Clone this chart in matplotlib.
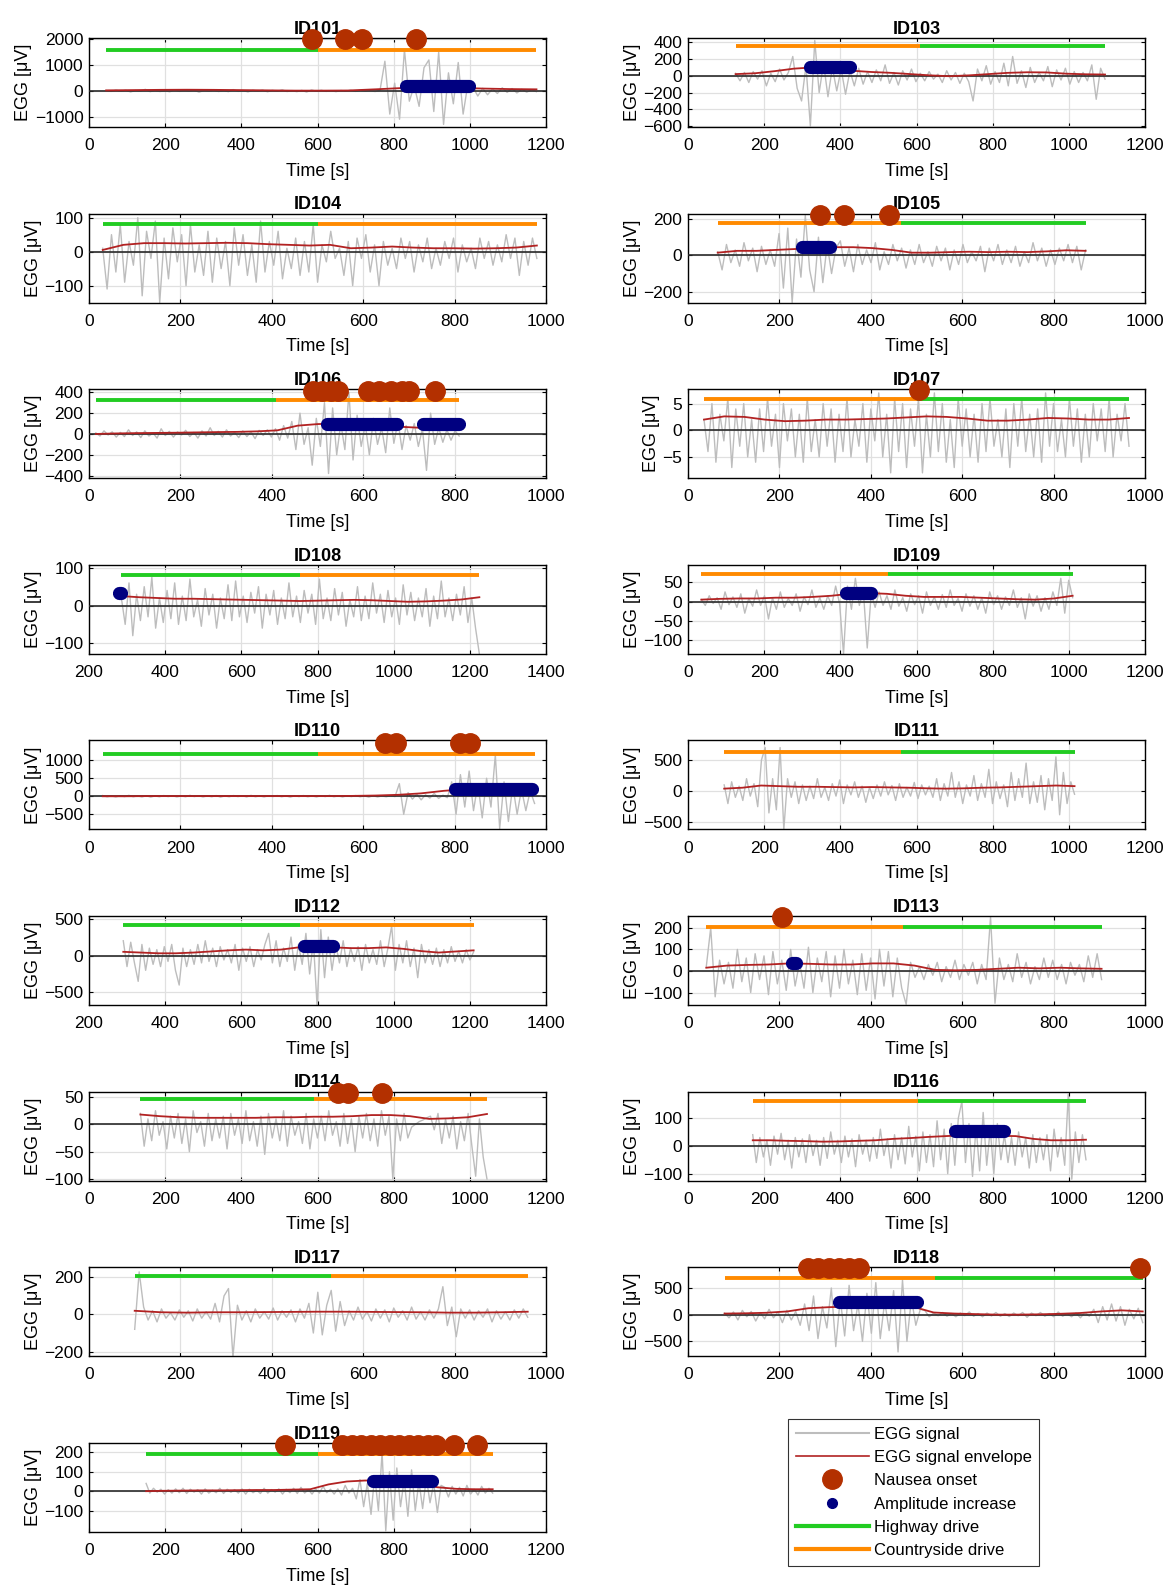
import matplotlib
matplotlib.use("Agg")
import matplotlib.pyplot as plt
from matplotlib.lines import Line2D
import numpy as np

plt.rcParams["font.family"] = ["Liberation Sans", "DejaVu Sans"]

# ---- data (time in s, amplitude in uV) ----
# drive = [start, switch, end]; first segment colour given per panel below

ID101_SIGNAL = [10, -20, 30, -15, 25, -40, 15, -10, 60, -30, 20, -25, 10, -35, 45, -20, 15, -10, 30, -50,
                20, -15, 35, -25, 10, -30, 50, -20, 15, -40, 25, -10, 30, -35, 20, -15, 40, -25, 10, -30,
                20, -45, 35, -15, 25, -20, 10, -30, 15, -10, 25, -20, 30, -15, 10, -25, 20,
                1150, -900, 300, -1100, 1600, -400, 200, -600, 900, 1200, -800, 1500, -1300, 700, -500,
                1100, -900, 300, 150, -200, 100, -150, 80, -100, 120, -60, 90, -80, 60, -50, 40, -30]
ID101_ENVELOPE = [20, 30, 40, 45, 40, 30, 20, 10, 10, 15, 60, 110, 130, 120, 90, 70, 60]
ID101_DRIVE = [45, 600, 1175]
ID101_NAUSEA = [585, 672, 718, 858]
ID101_AMPLITUDE = [(833, 997)]

ID103_SIGNAL = [30, -60, 40, -80, 50, -40, 60, -120, 30, -70, 80, -50, 40,
                230, -150, -300, 120, -600, 420, -200, 150, -250, 100, -180, 80, -220, 60, -120,
                90, -100, 50, -80, 70, -60, 130, -90, 40, -110, 60, -50, 80, -70, 30, -60, 50, -40, 20, -80,
                60, -50, 40, -90, 30, -70, -300, 80, -60, 120, -100, 50, -80, 150, -120, 230, -90, 60, -140,
                100, -80, 40, -60, 110, -130, 70, -50, 90, -100, 50, -80, 40, -60, 130, -280, 90, -40]
ID103_ENVELOPE = [20, 30, 55, 85, 100, 95, 60, 45, 35, 20, 5, -5, 5, 20, 35, 42, 40, 25, 18, 15]
ID103_DRIVE = [125, 610, 1095]
ID103_NAUSEA = []
ID103_AMPLITUDE = [(320, 425)]

ID104_SIGNAL = [10, -110, 50, -60, 80, -90, 30, -40, 100, -130, 60, -20, 90, -150, 40, -80, 70, -30, 50, -100,
                80, -60, 20, -70, 60, -90, 40, -50, 30, -100, 70, -40, 50, -70, 20, -90, 90, -60, 30, -40,
                60, -80, 10, -50, 40, -70, 30, -60, 80, -90,
                20, -30, 60, -20, 10, -70, 30, -100, 40, -20, 50, -60, 20, -100, 30, -40, 10, -50, 40, -20,
                30, -60, 20, -30, 40, -50, 10, -40, 30, -20, 40, -60, 20, -30, 10, -50, 40, -20, 30, -40,
                20, -30, 50, -20, 40, -70, 30, -40, 40, -20]
ID104_ENVELOPE = [5, 20, 25, 25, 24, 25, 26, 25, 22, 20, 18, 20, 10, 12, 15, 12, 10, 10, 9, 10, 12, 18]
ID104_DRIVE = [30, 500, 980]
ID104_NAUSEA = []
ID104_AMPLITUDE = []

ID105_SIGNAL = [20, -80, 60, -40, 30, -60, 70, -30, 40, -90, 50, -50, 30, -60,
                120, -180, 150, -260, 90, -120, 220, -80, -200, 100, -150, 60, -100, 40,
                80, -60, 40, -90, 60, -50, 30, -40, 70, -80, 20, -50, 60, -30, 40, -70, 30, -50, 60, -40,
                20, -60, 50, -30, 40, -80, 30, -50, 60, -40, 20, -30, 50, -90, 40, -30, 60, -50, 30, -40,
                50, -60, 20, -40, 70, -30, 40, -60, 30, -50, 40, -30, 60, -40, 50, -80, 30]
ID105_ENVELOPE = [15, 25, 25, 30, 35, 40, 45, 45, 40, 30, 15, 15, 18, 20, 18, 20, 18, 22, 28, 25]
ID105_DRIVE = [65, 465, 870]
ID105_NAUSEA = [288, 341, 440]
ID105_AMPLITUDE = [(250, 310)]

ID106_SIGNAL = [10, -20, 30, -10, 20, -30, 15, -25, 40, -15, 20, -35, 30, -20, 10, -40, 50, -15, 25, -30,
                20, -10, 35, -25, 15, -40, 30, -20, 60, -15, 25, -30, 40, -20, 15, -35, 30, -25, 20, -45,
                35, -15, 40, -30,
                50, -60, 80, -40, 120, -150, 200, -100, 60, -300, 150, -120, 300, -380, 250, -200, 100, -150,
                400, -250, 180, -120, 90, -200, 150, -100, 60, -180, 250, -90, 120, -150, 80, -60, 100, -120,
                50, -350, 200, -100, 60, -80, 40, -60, 30, -20]
ID106_ENVELOPE = [0, 5, 8, 10, 12, 15, 18, 20, 25, 35, 80, 95, 100, 100, 95, 70, 60, 90, 95]
ID106_DRIVE = [15, 410, 810]
ID106_NAUSEA = [490, 510, 530, 545, 610, 635, 660, 685, 700, 757]
ID106_AMPLITUDE = [(520, 675), (730, 810)]

ID107_SIGNAL = [2, -4, 5, -6, 3, -2, 6, -7, 4, -3, 5, -5, 2, -6, 4, -4, 6, -3, 3, -7, 5, -2, 4, -5, 3, -6,
                6, -4, 2, -5, 5, -3, 4, -6, 3, -4, 6, -5, 2, -3, 5, -6, 4, -2, 7, -5, 3, -8, 6, -4, 5, -7,
                4, -3, 6, -8, 3, -5, 7, -4, 5, -6, 2, -7, 6, -3, 4, -5, 3, -6, 5, -4, 6, -3, 2, -5, 4, -7,
                5, -3, 6, -4, 3, -5, 4, -6, 7, -3, 5, -4, 2, -5, 6, -3, 4, -6, 3, -5, 5, -2, 4, -4, 6, -5,
                3, -2, 5, -3]
ID107_ENVELOPE = [2.0, 2.6, 2.5, 2.0, 1.7, 1.8, 2.0, 2.0, 2.1, 2.2, 2.4, 2.6, 2.5, 2.2, 1.8, 1.8, 2.0, 2.3,
                  2.2, 2.0, 2.0, 2.3]
ID107_DRIVE = [35, 500, 965]
ID107_NAUSEA = [505]
ID107_AMPLITUDE = []

ID108_SIGNAL = [20, -50, 60, -80, 30, -40, 50, -30, 75, -60, 20, -45, 40, -35, 60, -50, 25, -40, 70, -30,
                15, -55, 45, -25, 30, -60, 20, -35, 55, -40, 65, -30, 25, -45, 35, -20, 50, -60, 30, -25,
                40, -50, 20, -35, 60, -30, 25, -45, 40, -20, 30, -50, 70, -35, 20, -40, 45, -25, 35, -55,
                15, -30, 50, -40, 25, -35, 60, -20, 30, -45, 40, -30, 20, -50, 55, -25, 35, -40, 20, -30,
                45, -55, 25, -35, 65, -30, 20, -40, 30, -25, 50, -45, 20, -60, -128]
ID108_ENVELOPE = [25, 22, 20, 18, 18, 17, 16, 15, 14, 13, 12, 13, 14, 15, 14, 12, 10, 11, 13, 16, 22]
ID108_DRIVE = [285, 755, 1225]
ID108_NAUSEA = []
ID108_AMPLITUDE = [(280, 283)]

ID109_SIGNAL = [5, -10, 15, -5, 10, -20, 25, -8, 12, -15, 20, -30, 8, -12, 30, -10, 15, -45, 10, -20,
                25, -15, 8, -10, 20, -25, 12, -8, 30, -15, 10, -20, 15, -10, 40, -5, -135, 40, -20, 60,
                -10, 30, -120, 20, -15, 25, -10, 15, -20, 30, -12, 10, -25, 20, -8, 15, -30, 25, -10, 12,
                -20, 18, -15, 30, -10, 8, -25, 20, -12, 15, -20, 10, -30, 25, -8, 15, -20, 12, -10, 30,
                -15, 10, -45, 20, -12, 15, -25, 10, -20, 25, -10, 60, -30, 55, 10]
ID109_ENVELOPE = [5, 7, 8, 8, 10, 10, 12, 15, 20, 22, 20, 15, 12, 12, 12, 10, 8, 6, 5, 8, 15]
ID109_DRIVE = [35, 525, 1010]
ID109_NAUSEA = []
ID109_AMPLITUDE = [(415, 480)]

ID110_SIGNAL = [20, -15, 10, -20, 15, -10, 25, -15, 10, -20, 15, -25, 10, -15, 20, -10, 15, -20, 10, -15,
                25, -10, 15, -20, 10, -15, 20, -25, 10, -15, 20, -10, 15, -20, 25, -15, 10, -20, 15, -10,
                20, -15, 10, -25, 15, -10, 20, -15, 10, -20, 15, -10, 25, -15, 10, -20, 15, -10, 20, -15,
                10, -25, 15, -20, 10, -15, 20, -10,
                350, -500, 100, -80, 60, -100, 40, -50, 80, -60, 30, -40,
                400, -500, 600, -300, 700, -400, 350, -600, 500, -300, 1150, -900, 400, -700, 300, -500,
                200, -400, 150, -200]
ID110_ENVELOPE = [0, 0, 5, 5, 5, 5, 5, 5, 5, 5, 5, 10, 20, 40, 80, 150, 200, 220, 200, 150]
ID110_DRIVE = [30, 500, 975]
ID110_NAUSEA = [648, 672, 812, 834]
ID110_AMPLITUDE = [(800, 970)]

ID111_SIGNAL = [100, -200, 150, -100, 80, -150, 200, -80, 120, -250, 500, 700, -350, 200, -300, 700, -620,
                200, -100, 150, -200, 100, -150, 80, -120, 200, -100, 60, -150, 120, -80, 180, -200, 100,
                -60, 150, -100, 80, -180, 60, -120, 100, -80, 150, -60, 90, -150, 120, -100, 60, -80, 140,
                -120, 100, -60, 80, -100, 200, -150, 120, -80, 300, -100, 150, -200, 100, -80, 250, -150,
                120, -100, 350, -200, 150, -120, 100, -250, 300, -150, 200, -100, 450, -200, 150, -180,
                250, -300, 200, -150, 550, -380, 300, -200, 150, -50]
ID111_ENVELOPE = [40, 55, 90, 80, 70, 70, 65, 60, 65, 60, 55, 45, 40, 45, 55, 60, 70, 80, 90, 80]
ID111_DRIVE = [95, 560, 1015]
ID111_NAUSEA = []
ID111_AMPLITUDE = []

ID112_SIGNAL = [200, -150, 180, -100, -350, 150, -200, 100, -120, 80, -150, 120, -80, 150, -200, -400, 100,
                -150, 80, -120, 150, -100, 200, -80, 100, -150, 120, -60, 80, -100, 150, -200, 100, -80,
                120, -150, 80, -60, 150, 300, -100, 200, -150, 100, -80, 250, -200, 150, -120, 300, -250,
                200, -680, 350, -300, 250, -200, 150, -100, 200, -150, 100, -80, 120, -200, 150, -100, 80,
                -120, 200, -150, 100, 400, -200, 150, -100, 200, -150, 100, -300, 150, -100, 80, -120, 100,
                -150, 80, -100, 120, -80, 60, -100, 80, -60, 50]
ID112_ENVELOPE = [50, 40, 30, 30, 40, 55, 70, 80, 70, 80, 110, 120, 110, 100, 100, 110, 90, 60, 40, 55, 70]
ID112_DRIVE = [290, 755, 1210]
ID112_NAUSEA = []
ID112_AMPLITUDE = [(765, 840)]

ID113_SIGNAL = [20, 200, -120, 50, -60, 40,
                -80, 100, -50, 60, -100, 80, -40, 70, -110, 90, -60, 50, -90, 100, -70, 40, -80, 110, -100,
                60, -50, 90, -120, 70, -80, 100, -60, 50, -110, 80, -90, 60, -130, 100, -70, 90, -120, 60,
                -80, -155, 40, -30, 20, -40, 30, -20, 40, -50, 20, -30, 50, -40, 30, -20, 40, -60, 30, -40,
                250, -150, 60, -40, 30, -50, 80, -30, 40, -60, 20, -40, 60, -30, 50, -40, 30, -60, 40, -20,
                30, -50, 70, -30, 80, -40]
ID113_ENVELOPE = [15, 25, 28, 30, 35, 33, 30, 30, 35, 35, 25, 5, 3, 5, 10, 15, 12, 15, 12, 10]
ID113_DRIVE = [40, 470, 905]
ID113_NAUSEA = [206]
ID113_AMPLITUDE = [(228, 236)]

ID114_SIGNAL = [20, -40, 10, -30, 25, -20, 5, -45, 15, -25, 20, -35, 10, -50, 25, -15, 5, -40, 20, -30,
                10, -25, 15, -45, 20, -20, 10, -35, 25, -30, 5, -40, 15, -55, 20, -25, 10, -30, 25, -40,
                15, -20, 5, -35, 20, -45, 10, -25, 15, -30, 25, -20, 5, -40, 20, -35, 10, -50, 15, -25,
                20, -30, 10, -40, 25, -20, 15, -100, 10, -30, 20, -25, -5, 0, 5, 8, 12, 15, -10, 20, -35,
                10, -25, 15, -45, 5, -30, 20, -40, -95, 10, -60, -100]
ID114_ENVELOPE = [18, 15, 13, 12, 12, 12, 12, 13, 13, 14, 14, 15, 17, 17, 15, 10, 11, 13, 19]
ID114_DRIVE = [135, 590, 1045]
ID114_NAUSEA = [655, 680, 770]
ID114_AMPLITUDE = []

ID116_SIGNAL = [40, -60, 30, -40, 20, -70, 35, -30, 45, -50, 20, -80, 30, -40, 25, -60, 40, -35, 20, -70,
                30, -45, 50, -30, 20, -60, 35, -40, 25, -75, 40, -30, 20, -55, 30, -45, 60, -35, 25, -80,
                40, -50, 30, -65, 70, -40, 35, -90, 50, -60, 40, -75, 90, -50, 60, -100, 80, -70, 100, 160,
                -60, 80, -110, 70, -90, 120, -70, 60, -100, 80, -50, 40, -60, 30, -70, 50, -40, 30, -80, 40,
                -60, 30, -50, 40, -90, 60, -40, 30, -70, 185, -120, 50, -60, 40, -50]
ID116_ENVELOPE = [20, 20, 18, 17, 15, 16, 18, 20, 25, 28, 32, 35, 38, 38, 36, 35, 25, 20, 20, 22]
ID116_DRIVE = [170, 605, 1045]
ID116_NAUSEA = []
ID116_AMPLITUDE = [(700, 830)]

ID117_SIGNAL = [-80, 230, 40, -30, 20, -40, 30, -20, 10, -30, 25, -15, 20, -35, 30, -20, 15, -25, 60, -40,
                100, 140, -230, 50, -30, 20, -40, 30, -20, 15, -25, 35, -30, 20, -15, 25, -40, 30, -20, 60,
                -100, 120, -110, 50, 130, -90, 70, -60, 20, -30, 40, -25, 15, -35, 30, -20, 25, -40, 35, -15,
                20, -30, 40, -25, 15, -30, 25, -20, 30, 150, -60, 40, -120, 30, -20, 25, -30, 20, -15, 30,
                -40, 20, -25, 15, -30, 25, -20, 30, -15]
ID117_ENVELOPE = [20, 12, 10, 12, 12, 13, 14, 15, 15, 14, 13, 12, 10, 10, 12, 15]
ID117_DRIVE = [100, 530, 960]
ID117_NAUSEA = []
ID117_AMPLITUDE = []

ID118_SIGNAL = [30, -60, 50, -100, 80, -40, 60, -120, 40, -80, 100, -60, 50, -150, 80, -100, 60, -200,
                200, -300, 350, -450, 150, -250, 500, -600, 300, -400, 550, -300, 200, -500, 400, -350, 600,
                -450, 250, -300, 450, -700, 650, -500, 300, -200, 100,
                80, -40, 30, -20, 40, -30, 20, -40, 30, -20, 50, -30, 20, -40, 30, -25, 40, -30, 20, -35,
                30, -20, 40, -50, 30, -20, 40, -30, 20, -40, 50, -30, 20, -40, 30, -60, 40, -30,
                100, -150, 150, -100, 200, -120, 150, -200, 100, -80, 120, -150]
ID118_ENVELOPE = [20, 25, 35, 60, 120, 140, 150, 160, 160, 150, 40, 20, 10, 0, 0, 5, 15, 30, 60, 80, 60]
ID118_DRIVE = [80, 540, 995]
ID118_NAUSEA = [262, 285, 308, 330, 352, 375, 990]
ID118_AMPLITUDE = [(330, 500)]

ID119_SIGNAL = [40, -10, 15, -5, 10, -15, 8, -10, 12, -8, 15, -12, 10, -5, 8, -15, 12, -10, 5, -8, 15, -12,
                10, -6, 8, -10, 12, -15, 10, -8, 5, -12, 15, -10, 8, -5, 12, -15, 10, -8, 15, -12, 20, -10,
                8, -15, 12, -10, 25, -8, 10, -15, 12, -20, 30, -10, 15,
                -40, 60, -80, 40, -120, 80, -100, 200, -205, 100, -150, 120, -80, 60, -130, 110, -100, 50,
                -90, 70, -60, 40, -110, 30,
                20, -30, 25, -15, 20, -25, 30, -15, 10, -20, 25, -10, 15, -10]
ID119_ENVELOPE = [0, 2, 3, 4, 4, 5, 6, 6, 8, 10, 35, 50, 55, 55, 50, 35, 20, 12, 10, 10]
ID119_DRIVE = [150, 600, 1060]
ID119_NAUSEA = [515, 665, 690, 715, 740, 765, 790, 815, 840, 865, 890, 912, 958, 1020]
ID119_AMPLITUDE = [(745, 900)]

# table of panels: (name, column, row, signal, envelope, drive, first drive, drive y,
#                   nausea, nausea y, amplitude, amplitude y, xlim, ylim, yticks, zero line)
PANELS = [
    ("ID101", 0, 0, ID101_SIGNAL, ID101_ENVELOPE, ID101_DRIVE, "hw", 1600, ID101_NAUSEA, 2000,
     ID101_AMPLITUDE, 200, (0, 1200), (-1400, 2050), [-1000, 0, 1000, 2000], True),
    ("ID103", 1, 0, ID103_SIGNAL, ID103_ENVELOPE, ID103_DRIVE, "cs", 360, ID103_NAUSEA, 0,
     ID103_AMPLITUDE, 110, (0, 1200), (-610, 450), [-600, -400, -200, 0, 200, 400], True),
    ("ID104", 0, 1, ID104_SIGNAL, ID104_ENVELOPE, ID104_DRIVE, "hw", 82, ID104_NAUSEA, 0,
     ID104_AMPLITUDE, 0, (0, 1000), (-150, 112), [-100, 0, 100], True),
    ("ID105", 1, 1, ID105_SIGNAL, ID105_ENVELOPE, ID105_DRIVE, "cs", 180, ID105_NAUSEA, 225,
     ID105_AMPLITUDE, 45, (0, 1000), (-260, 230), [-200, 0, 200], True),
    ("ID106", 0, 2, ID106_SIGNAL, ID106_ENVELOPE, ID106_DRIVE, "hw", 330, ID106_NAUSEA, 410,
     ID106_AMPLITUDE, 95, (0, 1000), (-425, 430), [-400, -200, 0, 200, 400], True),
    ("ID107", 1, 2, ID107_SIGNAL, ID107_ENVELOPE, ID107_DRIVE, "cs", 5.8, ID107_NAUSEA, 7.5,
     ID107_AMPLITUDE, 0, (0, 1000), (-9, 7.7), [-5, 0, 5], True),
    ("ID108", 0, 3, ID108_SIGNAL, ID108_ENVELOPE, ID108_DRIVE, "hw", 80, ID108_NAUSEA, 0,
     ID108_AMPLITUDE, 32, (200, 1400), (-128, 108), [-100, 0, 100], True),
    ("ID109", 1, 3, ID109_SIGNAL, ID109_ENVELOPE, ID109_DRIVE, "cs", 72, ID109_NAUSEA, 0,
     ID109_AMPLITUDE, 22, (0, 1200), (-135, 95), [-100, -50, 0, 50], True),
    ("ID110", 0, 4, ID110_SIGNAL, ID110_ENVELOPE, ID110_DRIVE, "hw", 1180, ID110_NAUSEA, 1470,
     ID110_AMPLITUDE, 210, (0, 1000), (-920, 1550), [-500, 0, 500, 1000], True),
    ("ID111", 1, 4, ID111_SIGNAL, ID111_ENVELOPE, ID111_DRIVE, "cs", 625, ID111_NAUSEA, 0,
     ID111_AMPLITUDE, 0, (0, 1200), (-615, 815), [-500, 0, 500], False),
    ("ID112", 0, 5, ID112_SIGNAL, ID112_ENVELOPE, ID112_DRIVE, "hw", 410, ID112_NAUSEA, 0,
     ID112_AMPLITUDE, 125, (200, 1400), (-670, 535), [-500, 0, 500], True),
    ("ID113", 1, 5, ID113_SIGNAL, ID113_ENVELOPE, ID113_DRIVE, "cs", 205, ID113_NAUSEA, 250,
     ID113_AMPLITUDE, 38, (0, 1000), (-158, 255), [-100, 0, 100, 200], True),
    ("ID114", 0, 6, ID114_SIGNAL, ID114_ENVELOPE, ID114_DRIVE, "hw", 47, ID114_NAUSEA, 58,
     ID114_AMPLITUDE, 0, (0, 1200), (-103, 60), [-100, -50, 0, 50], True),
    ("ID116", 1, 6, ID116_SIGNAL, ID116_ENVELOPE, ID116_DRIVE, "cs", 160, ID116_NAUSEA, 0,
     ID116_AMPLITUDE, 55, (0, 1200), (-125, 195), [-100, 0, 100], True),
    ("ID117", 0, 7, ID117_SIGNAL, ID117_ENVELOPE, ID117_DRIVE, "hw", 208, ID117_NAUSEA, 0,
     ID117_AMPLITUDE, 0, (0, 1000), (-225, 255), [-200, 0, 200], False),
    ("ID118", 1, 7, ID118_SIGNAL, ID118_ENVELOPE, ID118_DRIVE, "cs", 690, ID118_NAUSEA, 870,
     ID118_AMPLITUDE, 230, (0, 1000), (-780, 890), [-500, 0, 500], True),
    ("ID119", 0, 8, ID119_SIGNAL, ID119_ENVELOPE, ID119_DRIVE, "hw", 190, ID119_NAUSEA, 240,
     ID119_AMPLITUDE, 50, (0, 1200), (-210, 250), [-100, 0, 100, 200], True),
]

C_SIGNAL = "#bdbdbd"
C_ENV = "#b22222"
C_NAUSEA = "#b33000"
C_AMP = "#000080"
C_HW = "#22cc22"
C_CS = "#ff8a00"

W, H = 1173, 1586
fig = plt.figure(figsize=(W / 100, H / 100), dpi=100)

for (name, col, row, sig, env, drive, first, dy, nausea, ny, amp, ay,
     xlim, ylim, yticks, zero) in PANELS:
    left = 89 if col == 0 else 688
    top = 38 + 175.6 * row
    ax = fig.add_axes([left / W, 1 - (top + 89) / H, 457 / W, 89 / H])

    start, switch, end = drive
    t = np.linspace(start, end, len(sig))
    ax.plot(t, sig, color=C_SIGNAL, lw=1.0, zorder=2)
    if zero:
        ax.axhline(0, color="#2a2a2a", lw=1.2, zorder=3)
    te = np.linspace(start, end, len(env))
    ax.plot(te, env, color=C_ENV, lw=1.3, zorder=4)

    c1, c2 = (C_HW, C_CS) if first == "hw" else (C_CS, C_HW)
    ax.plot([start, switch], [dy, dy], color=c1, lw=2.8, solid_capstyle="butt", zorder=5)
    ax.plot([switch, end], [dy, dy], color=c2, lw=2.8, solid_capstyle="butt", zorder=5)

    for a, b in amp:
        ax.plot([a, b], [ay, ay], color=C_AMP, lw=9.5, solid_capstyle="round", zorder=6)
    if nausea:
        ax.plot(nausea, [ny] * len(nausea), "o", ms=14, color=C_NAUSEA, clip_on=False, zorder=7)

    ax.set_xlim(*xlim)
    ax.set_ylim(*ylim)
    ax.set_xticks(np.arange(xlim[0], xlim[1] + 1, 200))
    ax.set_yticks(yticks)
    ax.grid(True, color="#e0e0e0", lw=0.9)
    ax.set_axisbelow(True)
    ax.tick_params(direction="in", length=3, top=True, right=True, labelsize=12.5, pad=4)
    ax.tick_params(axis="x", pad=8)
    for s in ax.spines.values():
        s.set_linewidth(1.0)
    ax.set_title(name, fontsize=13, fontweight="bold", pad=3)
    ax.set_xlabel("Time [s]", fontsize=13, labelpad=7)
    ax.set_ylabel("EGG [μV]", fontsize=13, labelpad=2)

handles = [
    Line2D([], [], color=C_SIGNAL, lw=1.5, label="EGG signal"),
    Line2D([], [], color=C_ENV, lw=1.2, label="EGG signal envelope"),
    Line2D([], [], ls="none", marker="o", ms=14, color=C_NAUSEA, label="Nausea onset"),
    Line2D([], [], ls="none", marker="o", ms=7, color=C_AMP, label="Amplitude increase"),
    Line2D([], [], color=C_HW, lw=3, label="Highway drive"),
    Line2D([], [], color=C_CS, lw=3, label="Countryside drive"),
]
leg = fig.legend(handles=handles, loc="upper left", bbox_to_anchor=(788 / W, 1 - 1419 / H),
                 borderaxespad=0, fontsize=12, frameon=True, fancybox=False, edgecolor="black",
                 handlelength=4.4, handletextpad=0.3, labelspacing=0.5, borderpad=0.45)
leg.get_frame().set_linewidth(0.8)

fig.savefig("out.png", dpi=100)
